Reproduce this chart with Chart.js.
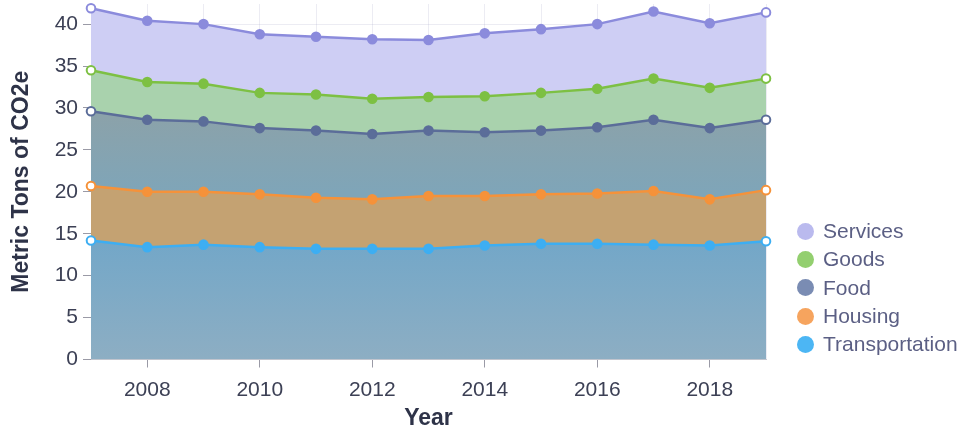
<!DOCTYPE html>
<html>
<head>
<meta charset="utf-8">
<script src="https://cdn.jsdelivr.net/npm/chart.js@4"></script>
<style>
  html, body { margin: 0; padding: 0; background: #fff; }
  #wrap { position: relative; width: 964px; height: 431px; }
  #legend { position: absolute; left: 797px; top: 217px; font: 21px "Liberation Sans", Arial, sans-serif; color: #5b5f84; }
  .item { display: flex; align-items: center; height: 28.3px; white-space: nowrap; }
  .dot { width: 17px; height: 17px; border-radius: 50%; margin-right: 9px; flex: none; }
</style>
</head>
<body>
<div id="wrap">
  <canvas id="c" width="964" height="431"></canvas>
  <div id="legend"></div>
</div>
<script>
// Household carbon footprint by category, metric tons CO2e per year
const years = [2007, 2008, 2009, 2010, 2011, 2012, 2013, 2014, 2015, 2016, 2017, 2018, 2019];
const transportation = [14.2, 13.4, 13.7, 13.4, 13.2, 13.2, 13.2, 13.6, 13.8, 13.8, 13.7, 13.6, 14.1];
const housing        = [6.5, 6.6, 6.3, 6.3, 6.1, 5.9, 6.3, 5.9, 5.9, 6.0, 6.4, 5.5, 6.1];
const food           = [8.9, 8.6, 8.4, 7.9, 8.0, 7.8, 7.8, 7.6, 7.6, 7.9, 8.5, 8.5, 8.4];
const goods          = [4.9, 4.5, 4.5, 4.2, 4.3, 4.2, 4.0, 4.3, 4.5, 4.6, 4.9, 4.8, 4.9];
const services       = [7.4, 7.3, 7.1, 7.0, 6.9, 7.1, 6.8, 7.5, 7.6, 7.7, 8.0, 7.7, 7.9];
const yTicks = [0, 5, 10, 15, 20, 25, 30, 35, 40];

const FONT = '"Liberation Sans", Arial, sans-serif';

// vertical gradient between two value levels (in data units)
function vGrad(topVal, botVal, topColor, botColor, fallback) {
  return (ctx) => {
    const chart = ctx.chart;
    const y = chart.scales && chart.scales.y;
    if (!chart.chartArea || !y) return fallback;
    const g = chart.ctx.createLinearGradient(0, y.getPixelForValue(topVal), 0, y.getPixelForValue(botVal));
    g.addColorStop(0, topColor);
    g.addColorStop(1, botColor);
    return g;
  };
}

// end points are drawn hollow
const endFill = (color) => years.map((_, i) => (i === 0 || i === years.length - 1) ? '#ffffff' : color);

const series = [
  { label: 'Transportation', data: transportation, line: '#3daef2', legend: '#4cb6f4',
    fill: vGrad(14, 0, '#73a7c8', '#8daec3', '#7eaac6'), fillMode: 'origin' },
  { label: 'Housing', data: housing, line: '#f5923a', legend: '#f6a45e',
    fill: '#c4a272', fillMode: '-1' },
  { label: 'Food', data: food, line: '#5b6d99', legend: '#7a8cb3',
    fill: vGrad(29, 20, '#8ba2aa', '#7fa5b8', '#86a4b0'), fillMode: '-1' },
  { label: 'Goods', data: goods, line: '#7dc043', legend: '#93cf6f',
    fill: '#a9d2ad', fillMode: '-1' },
  { label: 'Services', data: services, line: '#8b8bdc', legend: '#babaee',
    fill: '#cecef4', fillMode: '-1' }
];

const datasets = series.map(s => ({
  label: s.label,
  data: s.data,
  borderColor: s.line,
  backgroundColor: s.fill,
  fill: s.fillMode,
  borderWidth: 2.5,
  tension: 0,
  clip: false,
  pointRadius: 4.3,
  pointHoverRadius: 4.3,
  pointBorderWidth: 2,
  pointBorderColor: s.line,
  pointBackgroundColor: endFill(s.line)
}));

new Chart(document.getElementById('c'), {
  type: 'line',
  data: { labels: years, datasets },
  options: {
    responsive: false,
    animation: false,
    devicePixelRatio: 1,
    layout: { autoPadding: false, padding: { top: 4, right: 198, bottom: 0, left: 0 } },
    plugins: {
      legend: { display: false },
      tooltip: { enabled: false }
    },
    scales: {
      x: {
        z: 1,
        offset: false,
        grid: {
          color: 'rgba(110,110,160,0.13)',
          tickLength: 8,
          tickColor: (ctx) => (years[ctx.index] % 2 === 0 ? '#9a9aa6' : 'rgba(0,0,0,0)')
        },
        border: { display: true, color: '#c8c8d0', width: 1 },
        ticks: {
          autoSkip: false,
          maxRotation: 0,
          padding: 10,
          color: '#3c4055',
          font: { family: FONT, size: 21 },
          callback: (v, i) => (years[i] % 2 === 0 ? String(years[i]) : '')
        },
        title: {
          display: true,
          text: 'Year',
          color: '#2e3348',
          font: { family: FONT, size: 23, weight: 'bold', lineHeight: 1 },
          padding: { top: 0, bottom: 1 }
        },
        afterFit: (scale) => {
          scale.height = 71.5;
          scale.paddingLeft = 0;
          scale.paddingRight = 0;
        }
      },
      y: {
        z: 1,
        stacked: true,
        min: 0,
        max: 42.4,
        afterBuildTicks: (scale) => { scale.ticks = yTicks.map(v => ({ value: v })); },
        grid: {
          color: 'rgba(110,110,160,0.13)',
          tickLength: 8,
          tickColor: '#9a9aa6'
        },
        border: { display: false },
        ticks: {
          padding: 5,
          color: '#3c4055',
          font: { family: FONT, size: 21 }
        },
        title: {
          display: true,
          text: 'Metric Tons of CO2e',
          color: '#2e3348',
          font: { family: FONT, size: 23, weight: 'bold' },
          padding: { top: 8, bottom: 0 }
        },
        afterFit: (scale) => {
          scale.width = 91;
          scale.paddingTop = 0;
          scale.paddingBottom = 0;
        }
      }
    }
  }
});

// legend, top-down order
const legendEl = document.getElementById('legend');
series.slice().reverse().forEach(s => {
  const item = document.createElement('div');
  item.className = 'item';
  const dot = document.createElement('span');
  dot.className = 'dot';
  dot.style.background = s.legend;
  const txt = document.createElement('span');
  txt.textContent = s.label;
  item.appendChild(dot);
  item.appendChild(txt);
  legendEl.appendChild(item);
});
</script>
</body>
</html>
